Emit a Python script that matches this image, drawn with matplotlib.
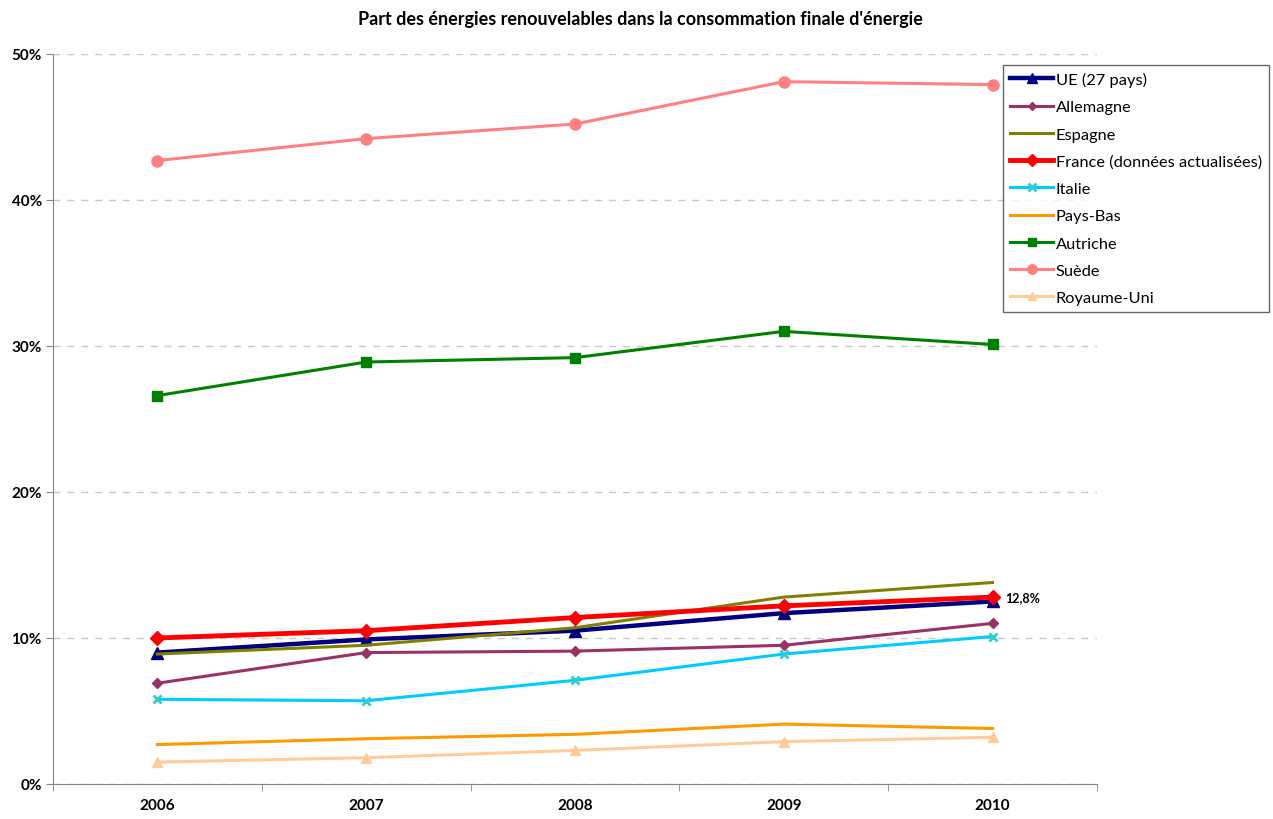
import matplotlib
matplotlib.use('Agg')
import matplotlib.pyplot as plt
from matplotlib.ticker import FuncFormatter, FixedLocator

plt.rcParams['font.family'] = ['Lato', 'DejaVu Sans']

years = ['2006', '2007', '2008', '2009', '2010']

ue = [9.0, 9.9, 10.5, 11.7, 12.5]
allemagne = [6.9, 9.0, 9.1, 9.5, 11.0]
espagne = [8.9, 9.5, 10.7, 12.8, 13.8]
france = [10.0, 10.5, 11.4, 12.2, 12.8]
italie = [5.8, 5.7, 7.1, 8.9, 10.1]
pays_bas = [2.7, 3.1, 3.4, 4.1, 3.8]
autriche = [26.6, 28.9, 29.2, 31.0, 30.1]
suede = [42.7, 44.2, 45.2, 48.1, 47.9]
royaume_uni = [1.5, 1.8, 2.3, 2.9, 3.2]

fig = plt.figure(figsize=(12.73, 8.2), dpi=100)
ax = fig.add_axes([0.0416, 0.0427, 0.8201, 0.8903])

x = range(len(years))

def plot(y, label, color, lw, marker=None, ms=0, mec=None, mew=1):
	line, = ax.plot(x, y, '-', color=color, linewidth=lw, marker=marker,
		markersize=ms, markerfacecolor=mec or color, markeredgecolor=mec or color,
		markeredgewidth=mew, label=label, zorder=3)
	return line

a = plot(ue, 'UE (27 pays)', '#000080', 3.2, '^', 8)
b = plot(allemagne, 'Allemagne', '#993366', 2.2, 'D', 5)
c = plot(espagne, 'Espagne', '#808000', 2.2)
d = plot(france, 'France (données actualisées)', '#FF0000', 3.5, 'D', 7)
e = plot(italie, 'Italie', '#00CCFF', 2.2, 'x', 6, '#33CCCC', 2)
f = plot(pays_bas, 'Pays-Bas', '#FF9900', 2.2)
g = plot(autriche, 'Autriche', '#008000', 2.2, 's', 7)
h = plot(suede, 'Suède', '#FF8080', 2.2, 'o', 8)
i = plot(royaume_uni, 'Royaume-Uni', '#FFCC99', 2.2, '^', 7)

ax.annotate('12,8%', (4, france[4]), xytext=(9, 0), textcoords='offset points',
	fontsize=9, fontweight='bold', va='center', ha='left')

ax.set_xlim(-0.5, 4.5)
ax.set_ylim(0, 50)
ax.set_xticks(list(x))
ax.set_xticklabels(years, fontsize=11, fontweight='bold')
ax.tick_params(axis='x', which='major', length=0, pad=10)
ax.xaxis.set_minor_locator(FixedLocator([-0.5, 0.5, 1.5, 2.5, 3.5, 4.5]))
ax.tick_params(axis='x', which='minor', length=5, color='#868686', direction='out')

ax.set_yticks(range(0, 51, 10))
ax.yaxis.set_major_formatter(FuncFormatter(lambda v, p: '%d%%' % v))
for t in ax.get_yticklabels():
	t.set_fontweight('bold')
	t.set_fontsize(11)
ax.tick_params(axis='y', length=5, color='#868686', direction='out', pad=3)

ax.grid(axis='y', linestyle=(0, (5, 5)), color='#C8C8C8', linewidth=1)
ax.set_axisbelow(True)
for s in ['top', 'right']:
	ax.spines[s].set_visible(False)
for s in ['left', 'bottom']:
	ax.spines[s].set_color('#868686')

fig.suptitle("Part des énergies renouvelables dans la consommation finale d'énergie",
	x=0.503, y=0.987, fontsize=13, fontweight='bold')

leg = fig.legend(handles=[a, b, c, d, e, f, g, h, i], loc='upper left',
	bbox_to_anchor=(0.788, 0.920), frameon=True, fancybox=False,
	fontsize=11.8, handlelength=2.6, handletextpad=0.15, labelspacing=0.78,
	borderpad=0.45, borderaxespad=0, markerscale=0.85)
leg.get_frame().set_edgecolor('#404040')
leg.get_frame().set_linewidth(1)

fig.savefig('out.png', dpi=100)
